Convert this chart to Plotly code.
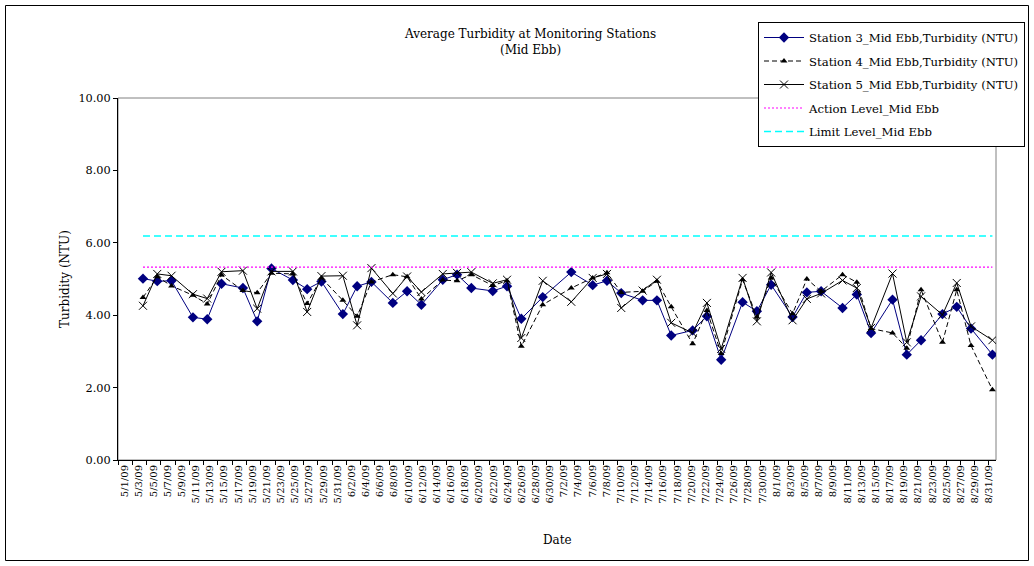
import plotly.graph_objects as go
from datetime import datetime, timedelta

# ---------------- data ----------------
dates = [
    "2009-05-04", "2009-05-06", "2009-05-08", "2009-05-11", "2009-05-13", "2009-05-15",
    "2009-05-18", "2009-05-20", "2009-05-22", "2009-05-25", "2009-05-27", "2009-05-29",
    "2009-06-01", "2009-06-03", "2009-06-05", "2009-06-08", "2009-06-10", "2009-06-12",
    "2009-06-15", "2009-06-17", "2009-06-19", "2009-06-22", "2009-06-24", "2009-06-26",
    "2009-06-29",
    "2009-07-03", "2009-07-06", "2009-07-08", "2009-07-10", "2009-07-13", "2009-07-15",
    "2009-07-17", "2009-07-20", "2009-07-22", "2009-07-24", "2009-07-27", "2009-07-29",
    "2009-07-31",
    "2009-08-03", "2009-08-05", "2009-08-07", "2009-08-10", "2009-08-12", "2009-08-14",
    "2009-08-17", "2009-08-19", "2009-08-21", "2009-08-24", "2009-08-26", "2009-08-28",
    "2009-08-31",
]

station3 = [
    5.01, 4.94, 4.95, 3.94, 3.89, 4.87, 4.75, 3.83, 5.29, 4.97, 4.72, 4.93,
    4.03, 4.80, 4.92, 4.34, 4.66, 4.29, 4.98, 5.12, 4.75, 4.67, 4.80, 3.90, 4.50,
    5.19, 4.83, 4.95, 4.61, 4.41, 4.41, 3.44, 3.58, 3.97, 2.77, 4.36, 4.11, 4.84,
    3.95, 4.63, 4.66, 4.20, 4.57, 3.51, 4.43, 2.91, 3.31, 4.03, 4.23, 3.63, 2.91,
]

station4 = [
    4.49, 5.06, 4.81, 4.55, 4.31, 5.11, 4.68, 4.62, 5.16, 5.14, 4.32, 5.03,
    4.41, 3.97, 4.92, 5.12, 5.06, 4.45, 4.97, 4.95, 5.12, 4.82, 4.95, 3.14, 4.29,
    4.75, 5.03, 5.17, 4.63, 4.66, 4.94, 4.23, 3.21, 4.13, 2.94, 4.98, 3.95, 5.03,
    4.04, 5.00, 4.66, 5.12, 4.91, 3.63, 3.51, 3.09, 4.70, 3.25, 4.70, 3.16, 1.94,
]

station5 = [
    4.26, 5.14, 5.09, 4.58, 4.46, 5.20, 5.23, 4.18, 5.21, 5.21, 4.09, 5.08,
    5.09, 3.72, 5.30, 4.60, 5.07, 4.64, 5.14, 5.17, 5.19, 4.88, 4.98, 3.37, 4.95,
    4.37, 5.03, 5.14, 4.20, 4.68, 4.98, 3.79, 3.51, 4.34, 3.07, 5.03, 3.83, 5.18,
    3.86, 4.45, 4.60, 4.96, 4.75, 3.65, 5.15, 3.25, 4.52, 4.01, 4.89, 3.69, 3.31,
]

action_level_value = 5.33
limit_level_value = 6.19
action_level = [action_level_value for _ in dates]
limit_level = [limit_level_value for _ in dates]

# x-axis: one slot per day from 5/1/09 to 8/31/09; labels every two days
first_day = datetime(2009, 5, 1)
n_days = 123
label_dates = [first_day + timedelta(days=2 * k) for k in range(62)]
tick_text = [f"{d.month}/{d.day}/{d.strftime('%y')}" for d in label_dates]

# ---------------- geometry helpers ----------------
L, R, T, B = 118, 996, 98, 460
W, H = 1034, 566


def xp(px):
    return (px - L) / (R - L)


def yp(py):
    return (B - py) / (B - T)


range_start = first_day - timedelta(hours=12)
range_end = range_start + timedelta(days=n_days)
# labels spread evenly along the axis, tick marks every two days
tick_vals = [range_start + timedelta(days=(k + 0.5) * n_days / len(label_dates))
             for k in range(len(label_dates))]
minor_vals = [range_start + timedelta(days=2 * k) for k in range(62)]

FONT = "DejaVu Serif"

fig = go.Figure()

fig.add_trace(go.Scatter(
    x=dates, y=station3, name="Station 3_Mid Ebb,Turbidity (NTU)",
    mode="lines+markers", legendgroup="a",
    line=dict(color="#000080", width=1),
    marker=dict(symbol="diamond", size=8, color="#000080"),
))
fig.add_trace(go.Scatter(
    x=dates, y=station4, name="Station 4_Mid Ebb,Turbidity (NTU)",
    mode="lines+markers", legendgroup="b",
    line=dict(color="black", width=1, dash="5px,3px"),
    marker=dict(symbol="triangle-up", size=6, color="black"),
))
fig.add_trace(go.Scatter(
    x=dates, y=station5, name="Station 5_Mid Ebb,Turbidity (NTU)",
    mode="lines+markers", legendgroup="c",
    line=dict(color="black", width=1),
    marker=dict(symbol="x-thin", size=8, color="black",
                line=dict(color="black", width=1)),
))
fig.add_trace(go.Scatter(
    x=dates, y=action_level, name="Action Level_Mid Ebb",
    mode="lines", legendgroup="d",
    line=dict(color="#FF00FF", width=1.2, dash="2px,2px"),
))
fig.add_trace(go.Scatter(
    x=dates, y=limit_level, name="Limit Level_Mid Ebb",
    mode="lines", legendgroup="e",
    line=dict(color="#00FFFF", width=1.5, dash="7px,4px"),
))

fig.update_layout(
    width=W, height=H,
    margin=dict(l=L, r=W - R, t=T, b=H - B, autoexpand=False),
    paper_bgcolor="white", plot_bgcolor="white",
    font=dict(family=FONT, size=11.5, color="black"),
    showlegend=True,
    legend=dict(
        x=xp(758), y=yp(22), xanchor="left", yanchor="top",
        bgcolor="white", bordercolor="black", borderwidth=1,
        font=dict(family=FONT, size=11.7, color="black"),
        tracegroupgap=4.5, traceorder="grouped", itemwidth=40,
    ),
    xaxis=dict(
        type="date", range=[range_start, range_end],
        tickmode="array", tickvals=tick_vals, ticktext=tick_text,
        tickangle=-90, ticks="", showgrid=False, zeroline=False,
        showline=True, linecolor="black", linewidth=1,
        tickfont=dict(family=FONT, size=10, color="black"),
        minor=dict(tickmode="array", tickvals=minor_vals, ticks="outside",
                   ticklen=4, tickcolor="black", showgrid=False),
    ),
    yaxis=dict(
        range=[0, 10], tickmode="array", tickvals=[0, 2, 4, 6, 8, 10],
        tickformat=".2f", ticks="outside", ticklen=4, tickcolor="black",
        showgrid=False, zeroline=False, showline=True,
        linecolor="black", linewidth=1,
        tickfont=dict(family=FONT, size=11.3, color="black"),
    ),
    shapes=[
        dict(type="rect", xref="paper", yref="paper", x0=0, x1=1, y0=0, y1=1,
             line=dict(color="#808080", width=1), layer="below"),
        dict(type="rect", xref="paper", yref="paper",
             x0=xp(5.5), x1=xp(1028.5), y0=yp(5.5), y1=yp(560.5),
             line=dict(color="black", width=1), layer="below"),
    ],
    annotations=[
        dict(text="Average Turbidity at Monitoring Stations<br>(Mid Ebb)",
             xref="paper", yref="paper", x=xp(530), y=yp(25),
             xanchor="center", yanchor="top", showarrow=False, align="center",
             font=dict(family=FONT, size=12, color="black")),
        dict(text="Turbidity (NTU)", xref="paper", yref="paper",
             x=xp(65), y=yp(279), xanchor="center", yanchor="middle",
             textangle=-90, showarrow=False,
             font=dict(family=FONT, size=12, color="black")),
        dict(text="Date", xref="paper", yref="paper",
             x=xp(557), y=yp(540), xanchor="center", yanchor="middle",
             showarrow=False, font=dict(family=FONT, size=12, color="black")),
    ],
)

fig.write_html("out.html", config={"displayModeBar": False},
               post_script="document.body.style.margin='0';")
